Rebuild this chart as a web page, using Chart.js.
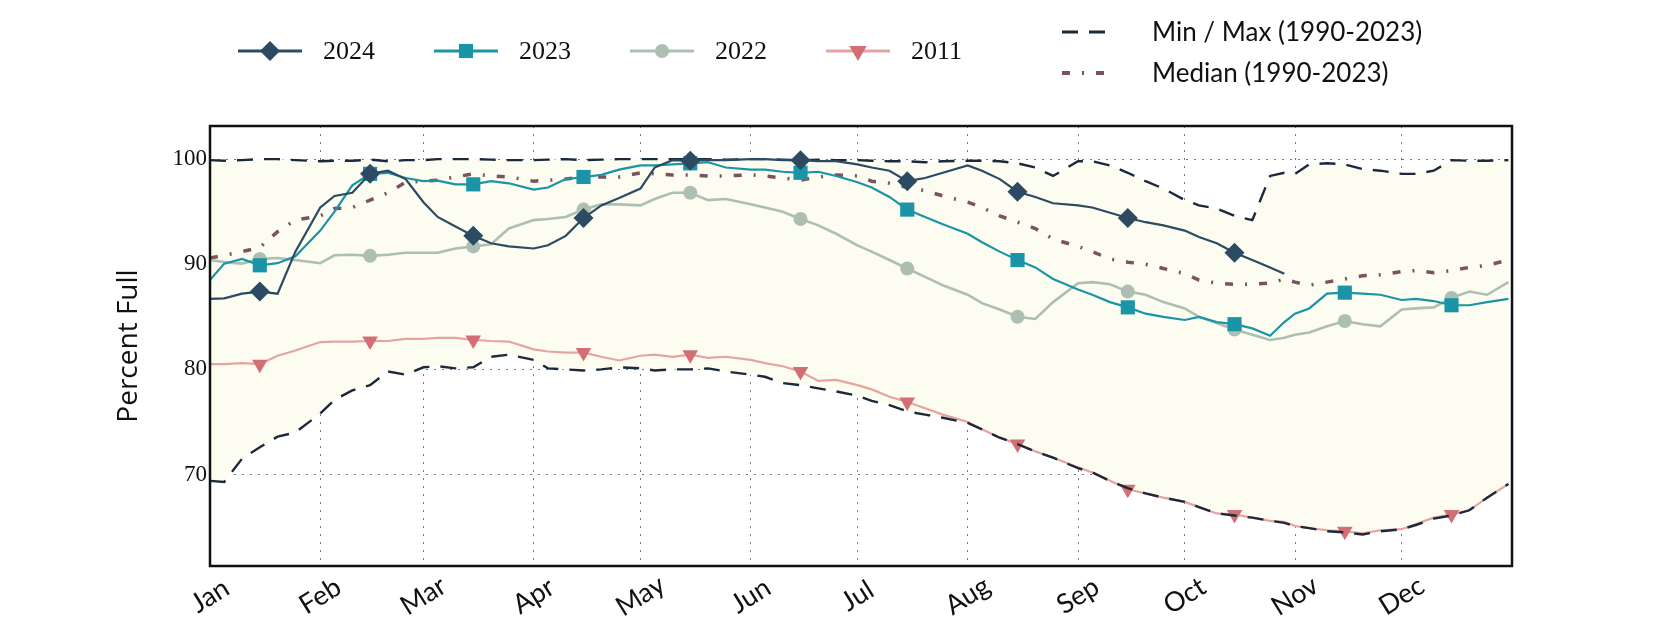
<!DOCTYPE html>
<html>
<head>
<meta charset="utf-8">
<script src="https://cdn.jsdelivr.net/npm/chart.js@4.4.1/dist/chart.umd.min.js"></script>
<style>
  body { margin: 0; background: #fff; }
</style>
</head>
<body>
<canvas id="myChart" width="1680" height="630"></canvas>
<script>
// day of year (0 = Jan 1, leap year)
const days = [0,4,9,14,19,24, 31,35,40,45,50,55, 60,64,69,74,79,84, 91,95,100,105,110,115,
  121,125,130,135,140,145, 152,156,161,166,171,176, 182,186,191,196,201,206,
  213,217,222,227,232,237, 244,248,253,258,263,268, 274,278,283,288,293,298,302,
  305,309,314,319,324,329, 335,339,344,349,354,359, 365];

const monthStarts = [0,31,60,91,121,152,182,213,244,274,305,335];
const monthLabels = ['Jan','Feb','Mar','Apr','May','Jun','Jul','Aug','Sep','Oct','Nov','Dec'];
const markerDays = [14,45,74,105,135,166,196,227,258,288,319,349];
const yTicks = [70,80,90,100];

const y2024 = [86.7,86.75,87.2,87.4,87.2,91.2, 95.4,96.5,96.8,98.6,98.9,98.1, 95.9,94.5,93.6,92.7,92.0,91.7,
  91.5,91.8,92.7,94.4,95.6,96.3, 97.2,99.2,99.9,99.85,99.9,99.9, 100,100,99.9,99.9,99.8,99.8,
  99.5,99.2,98.9,97.9,98.2,98.7, 99.4,98.9,98.1,96.9,96.4,95.8, 95.6,95.4,94.9,94.4,94.0,93.7,
  93.2,92.6,92.0,91.1,90.4,89.7,89.1, null,null,null,null,null,null, null,null,null,null,null,null, null];

const y2023 = [88.5,90.06,90.5,89.9,90.1,90.75, 93.2,95.0,97.5,98.6,98.7,98.2, 97.9,97.95,97.6,97.6,97.9,97.7,
  97.1,97.3,98.1,98.3,98.5,99.0, 99.4,99.4,99.5,99.6,99.7,99.2, 99.0,99.0,98.8,98.7,98.8,98.4,
  97.8,97.3,96.4,95.2,94.5,93.8, 92.9,92.1,91.2,90.4,89.7,88.6, 87.6,87.1,86.4,85.9,85.3,85.0,
  84.7,85.0,84.5,84.3,83.9,83.2,84.5, 85.3,85.8,87.2,87.3,87.2,87.1, 86.6,86.7,86.5,86.1,86.1,86.4, 86.7];

const y2022 = [90.4,90.2,90.06,90.5,90.6,90.4, 90.1,90.85,90.9,90.8,90.9,91.1, 91.1,91.1,91.5,91.7,91.9,93.4,
  94.2,94.3,94.5,95.2,95.7,95.7, 95.6,96.2,96.8,96.8,96.1,96.2, 95.7,95.4,95.0,94.3,93.7,92.9,
  91.8,91.2,90.4,89.6,88.8,88.0, 87.1,86.3,85.7,85.0,84.8,86.4, 88.2,88.3,88.1,87.4,87.1,86.4,
  85.8,85.0,84.4,83.8,83.3,82.8,83.0, 83.3,83.5,84.1,84.6,84.3,84.1, 85.7,85.8,85.9,86.8,87.4,87.1, 88.3];

const y2011 = [80.5,80.5,80.6,80.5,81.3,81.8, 82.6,82.65,82.65,82.7,82.7,82.9, 82.9,83.0,83.0,82.8,82.7,82.65,
  81.9,81.7,81.6,81.6,81.2,80.85, 81.3,81.4,81.2,81.4,81.1,81.2, 80.9,80.6,80.3,79.8,78.9,79.0,
  78.5,78.1,77.4,76.9,76.3,75.7, 75.0,74.3,73.5,72.9,72.2,71.6, 70.7,70.2,69.4,68.6,68.2,67.8,
  67.4,66.9,66.3,66.2,65.9,65.6,65.5, 65.1,64.9,64.7,64.6,64.4,64.7, 64.8,65.3,65.9,66.2,66.6,67.8, 69.1];

const yMin = [69.4,69.3,71.5,72.6,73.6,74.0, 75.8,77.1,78.0,78.5,79.8,79.5, 80.2,80.3,80.1,80.2,81.2,81.4,
  80.9,80.1,80.0,79.9,80.0,80.2, 80.1,79.9,80.0,80.0,80.1,79.8, 79.5,79.3,78.7,78.5,78.2,77.9,
  77.5,77.0,76.6,76.0,75.7,75.4, 74.9,74.3,73.5,72.9,72.2,71.6, 70.6,70.2,69.4,68.7,68.2,67.8,
  67.4,66.9,66.3,66.1,65.9,65.6,65.4, 65.1,64.9,64.6,64.5,64.3,64.6, 64.8,65.2,65.8,66.1,66.6,67.8, 69.1];

const yMax = [99.9,99.85,99.9,100,100,99.9, 99.8,99.85,99.85,99.95,99.8,99.9, 99.9,100,100,100,99.95,99.9,
  99.9,99.95,100,99.9,99.95,100, 100,100,100,100,100,99.95, 100,100,99.95,99.9,99.95,99.9,
  99.9,99.85,99.8,99.8,99.7,99.8, 99.85,99.85,99.8,99.6,99.2,98.4, 99.8,99.8,99.4,98.7,97.9,97.2,
  96.1,95.6,95.3,94.6,94.2,98.4,98.7, 98.6,99.5,99.6,99.5,99.05,98.9, 98.6,98.6,98.9,99.9,99.85,99.85, 99.9];

const yMedian = [90.6,90.85,91.2,91.6,93.1,94.2, 94.6,95.3,95.4,96.1,96.8,97.8, 97.9,98.0,98.3,98.6,98.4,98.3,
  97.9,98.0,98.1,98.3,98.3,98.3, 98.7,98.6,98.5,98.5,98.4,98.4, 98.5,98.4,98.2,98.0,98.3,98.5,
  98.4,97.9,97.7,97.3,97.0,96.5, 95.9,95.4,94.6,94.0,93.4,92.4, 91.7,91.2,90.5,90.2,90.0,89.6,
  89.1,88.5,88.2,88.1,88.1,88.2,88.6, 88.3,88.0,88.3,88.6,88.9,89.0, 89.3,89.4,89.2,89.4,89.7,89.9, 90.4];

function pts(vals) {
  return days.map((d, i) => ({x: d, y: vals[i]}));
}
function markerRadius(r) {
  return ctx => markerDays.includes(days[ctx.dataIndex]) ? r : 0;
}

const NAVY = '#2c4a62', TEAL = '#1a94a6', SAGE = '#adbfb3', PINK = '#e6a3a1', PINKDK = '#d26f75';
const DASHCOL = '#1a2a3c', MEDCOL = '#7a535d';

const datasets = [
  {label:'2024', data:pts(y2024), borderColor:NAVY, backgroundColor:NAVY, borderWidth:2.2,
   pointStyle:'rectRot', pointRadius:markerRadius(10), pointBorderWidth:0, order:0},
  {label:'2023', data:pts(y2023), borderColor:TEAL, backgroundColor:TEAL, borderWidth:2.2,
   pointStyle:'rect', pointRadius:markerRadius(10), pointBorderWidth:0, order:2},
  {label:'2022', data:pts(y2022), borderColor:SAGE, backgroundColor:SAGE, borderWidth:2.6,
   pointStyle:'circle', pointRadius:markerRadius(7), pointBorderWidth:0, order:3},
  {label:'2011', data:pts(y2011), borderColor:PINK, backgroundColor:PINKDK, borderWidth:2.2,
   pointStyle:'triangle', pointRotation:180, pointRadius:markerRadius(9), pointBorderWidth:0, order:4},
  {label:'Median (1990-2023)', data:pts(yMedian), borderColor:MEDCOL, borderWidth:3.5,
   borderDash:[8,12,2,12], pointRadius:0, order:5},
  {label:'Min / Max (1990-2023)', data:pts(yMax), borderColor:DASHCOL, borderWidth:2.4,
   borderDash:[16,11], pointRadius:0, fill:'+1', backgroundColor:'#fcfcf0', order:1},
  {label:'min', data:pts(yMin), borderColor:DASHCOL, borderWidth:2.4,
   borderDash:[16,11], pointRadius:0, order:1}
];

// legend + frame + rotated month labels
const decor = {
  id: 'decor',
  afterDraw(chart) {
    const c = chart.ctx, a = chart.chartArea, xs = chart.scales.x;
    c.save();
    c.strokeStyle = '#111';
    c.lineWidth = 2.5;
    c.strokeRect(a.left, a.top, a.right - a.left, a.bottom - a.top);

    c.fillStyle = '#111';
    c.font = '27px Lato';
    c.textAlign = 'center';
    c.textBaseline = 'middle';
    monthStarts.forEach((d, i) => {
      const x = xs.getPixelForValue(d);
      c.save();
      c.translate(x, a.bottom + 30);
      c.rotate(-32 * Math.PI / 180);
      c.fillText(monthLabels[i], 0, 0);
      c.restore();
    });

    const ds = chart.data.datasets;
    const row = 51;
    [0,1,2,3].forEach((k, i) => {
      const d = ds[k], x0 = 238 + i * 196;
      c.setLineDash([]);
      c.strokeStyle = d.borderColor;
      c.lineWidth = 3;
      c.beginPath(); c.moveTo(x0, row); c.lineTo(x0 + 64, row); c.stroke();
      c.fillStyle = d.backgroundColor;
      Chart.helpers.drawPoint(c, {pointStyle: d.pointStyle, rotation: d.pointRotation || 0,
        radius: d.pointStyle === 'circle' ? 7 : 10, borderWidth: 0}, x0 + 32, row);
      c.fillStyle = '#111';
      c.font = '26px "Liberation Serif"';
      c.textAlign = 'left';
      c.fillText(d.label, x0 + 85, row + 1);
    });
    [[5, 32], [4, 73]].forEach(([k, y]) => {
      const d = ds[k];
      c.strokeStyle = d.borderColor;
      c.lineWidth = d.borderWidth + 0.6;
      c.setLineDash(d.borderDash);
      c.beginPath(); c.moveTo(1062, y); c.lineTo(1114, y); c.stroke();
      c.setLineDash([]);
      c.fillStyle = '#111';
      c.font = '26px Lato';
      c.textAlign = 'left';
      c.fillText(d.label, 1152, y + 1);
    });
    c.restore();
  }
};

new Chart(document.getElementById('myChart'), {
  type: 'line',
  data: {datasets: datasets},
  plugins: [decor],
  options: {
    responsive: false,
    animation: false,
    events: [],
    layout: {padding: {left: 112, right: 168, top: 126, bottom: 64}},
    elements: {line: {tension: 0}},
    plugins: {
      legend: {display: false},
      tooltip: {enabled: false},
      filler: {drawTime: 'beforeDatasetsDraw'}
    },
    scales: {
      x: {
        type: 'linear', min: 0, max: 366,
        afterBuildTicks: s => { s.ticks = monthStarts.map(v => ({value: v})); },
        afterFit: s => { s.height = 0; },
        ticks: {display: false},
        grid: {color: '#777', lineWidth: 1, drawTicks: false},
        border: {display: false, dash: [2, 6]}
      },
      y: {
        min: 61.3, max: 103.15,
        afterBuildTicks: s => { s.ticks = yTicks.map(v => ({value: v})); },
        afterFit: s => { s.width = 98; },
        ticks: {color: '#111', padding: 3, font: {family: '"Liberation Serif"', size: 23},
          callback: v => String(v)},
        grid: {color: '#777', lineWidth: 1, drawTicks: false},
        border: {display: false, dash: [2, 6]},
        title: {display: true, text: 'Percent Full', color: '#111', padding: 0,
          font: {family: '"Open Sans"', size: 28}}
      }
    }
  }
});
</script>
</body>
</html>
